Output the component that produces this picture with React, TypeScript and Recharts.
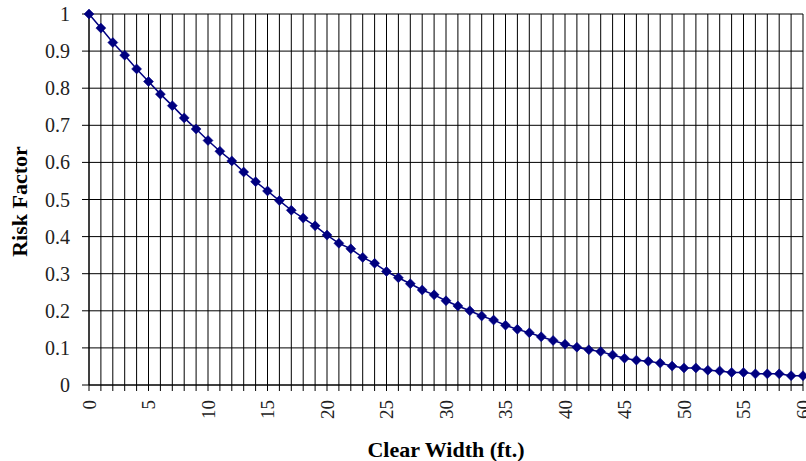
import React from 'react';
import { LineChart, Line, XAxis, YAxis, CartesianGrid } from 'recharts';

const clearWidth: number[] = Array.from({ length: 61 }, (_, i) => i);
const riskFactor: number[] = [
  1.0, 0.962, 0.923, 0.889, 0.852, 0.818, 0.784, 0.753, 0.72, 0.69,
  0.659, 0.63, 0.604, 0.574, 0.548, 0.523, 0.497, 0.471, 0.45, 0.429,
  0.404, 0.382, 0.367, 0.344, 0.328, 0.306, 0.289, 0.273, 0.256, 0.243,
  0.227, 0.213, 0.2, 0.186, 0.175, 0.161, 0.15, 0.141, 0.13, 0.12,
  0.11, 0.102, 0.095, 0.09, 0.081, 0.072, 0.067, 0.064, 0.059, 0.051,
  0.046, 0.046, 0.04, 0.038, 0.034, 0.034, 0.03, 0.03, 0.03, 0.025,
  0.025,
];
const xTicks: number[] = clearWidth;
const yTicks: number[] = [0, 0.1, 0.2, 0.3, 0.4, 0.5, 0.6, 0.7, 0.8, 0.9, 1];
const yTickLabels: string[] = ['0', '0.1', '0.2', '0.3', '0.4', '0.5', '0.6', '0.7', '0.8', '0.9', '1'];
const xTitle = 'Clear Width (ft.)';
const yTitle = 'Risk Factor';

const data = clearWidth.map((x, i) => ({ x, y: riskFactor[i] }));

const FONT = '"Liberation Serif", "Times New Roman", serif';
const NAVY = '#000080';

const XTick = (props: any) => {
  const { x, y, payload } = props;
  const v = payload.value;
  if (v % 5 !== 0) return <g />;
  return (
    <g transform={`translate(${x},${y})`}>
      <text
        transform="rotate(-90)"
        textAnchor="end"
        dy="0.35em"
        fontFamily={FONT}
        fontSize={19}
        fill="#222"
      >
        {String(v)}
      </text>
    </g>
  );
};

const YTick = (props: any) => {
  const { x, y, payload } = props;
  const i = yTicks.indexOf(payload.value);
  return (
    <text
      x={x}
      y={y}
      textAnchor="end"
      dy="0.35em"
      fontFamily={FONT}
      fontSize={20}
      fill="#222"
    >
      {i >= 0 ? yTickLabels[i] : String(payload.value)}
    </text>
  );
};

const Diamond = (props: any) => {
  const { cx, cy, index } = props;
  const r = 5;
  return (
    <path
      key={`d-${index}`}
      d={`M${cx},${cy - r} L${cx + r},${cy} L${cx},${cy + r} L${cx - r},${cy} Z`}
      fill={NAVY}
      stroke={NAVY}
      strokeWidth={0.5}
    />
  );
};

const YLabel = (props: any) => {
  const { viewBox } = props;
  const cx = viewBox.x + 19;
  const cy = viewBox.y + viewBox.height / 2 + 2;
  return (
    <text
      x={cx}
      y={cy}
      transform={`rotate(-90 ${cx} ${cy})`}
      textAnchor="middle"
      dy="0.35em"
      fontFamily={FONT}
      fontWeight="bold"
      fontSize={22}
      fill="#000"
    >
      {yTitle}
    </text>
  );
};

const XLabel = (props: any) => {
  const { viewBox } = props;
  const cx = viewBox.x + viewBox.width / 2;
  const cy = viewBox.y + 72;
  return (
    <text
      x={cx}
      y={cy}
      textAnchor="middle"
      fontFamily={FONT}
      fontWeight="bold"
      fontSize={22}
      fill="#000"
    >
      {xTitle}
    </text>
  );
};

export default function App() {
  return (
    <div style={{ position: 'absolute', left: 0, top: 0, width: 806, height: 461, background: '#fff' }}>
      <LineChart
        width={806}
        height={461}
        data={data}
        margin={{ top: 14, right: 3, bottom: 0, left: 0 }}
      >
        <CartesianGrid stroke="#000" strokeWidth={1} verticalValues={xTicks} horizontalValues={yTicks} />
        <XAxis
          dataKey="x"
          type="number"
          domain={[0, 60]}
          ticks={xTicks}
          interval={0}
          height={76}
          tickSize={6}
          tickMargin={9}
          stroke="#000"
          tickLine={{ stroke: '#000' }}
          tick={<XTick />}
          label={<XLabel />}
        />
        <YAxis
          type="number"
          domain={[0, 1]}
          ticks={yTicks}
          interval={0}
          width={89}
          tickSize={7}
          tickMargin={12}
          stroke="#000"
          tickLine={{ stroke: '#000' }}
          tick={<YTick />}
          label={<YLabel />}
        />
        <Line
          type="linear"
          dataKey="y"
          stroke={NAVY}
          strokeWidth={1.5}
          dot={Diamond}
          activeDot={false}
          isAnimationActive={false}
        />
      </LineChart>
    </div>
  );
}
